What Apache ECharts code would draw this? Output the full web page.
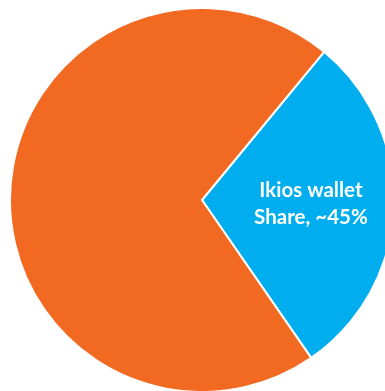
<!DOCTYPE html>
<html>
<head>
<meta charset="utf-8">
<script src="https://cdn.jsdelivr.net/npm/echarts@6/dist/echarts.min.js"></script>
<style>
  html, body { margin: 0; padding: 0; background: #fff; }
  #chart { width: 385px; height: 391px; }
</style>
</head>
<body>
<div id="chart"></div>
<script>
// slice values
const categories = ['Ikios wallet\nShare, ~45%', 'Other']
const values = [29.4, 70.6]
const colors = ['#00AEEF', '#F26922']
const showLabel = [true, false]

const chart = echarts.init(document.getElementById('chart'))

chart.setOption({
  animation: false,
  series: [
    {
      type: 'pie',
      center: [202, 200],
      radius: 192,
      startAngle: 50.5,
      clockwise: true,
      emphasis: { disabled: true },
      itemStyle: { borderColor: '#fff', borderWidth: 2 },
      labelLine: { show: false },
      data: categories.map((name, i) => ({
        name,
        value: values[i],
        itemStyle: { color: colors[i] },
        label: {
          show: showLabel[i],
          position: 'inside',
          formatter: '{b}',
          color: '#fff',
          fontFamily: 'Lato',
          fontWeight: 'bold',
          fontSize: 20.5,
          lineHeight: 27,
          padding: [0, 0, 2, 20]
        }
      }))
    }
  ]
})
</script>
</body>
</html>
